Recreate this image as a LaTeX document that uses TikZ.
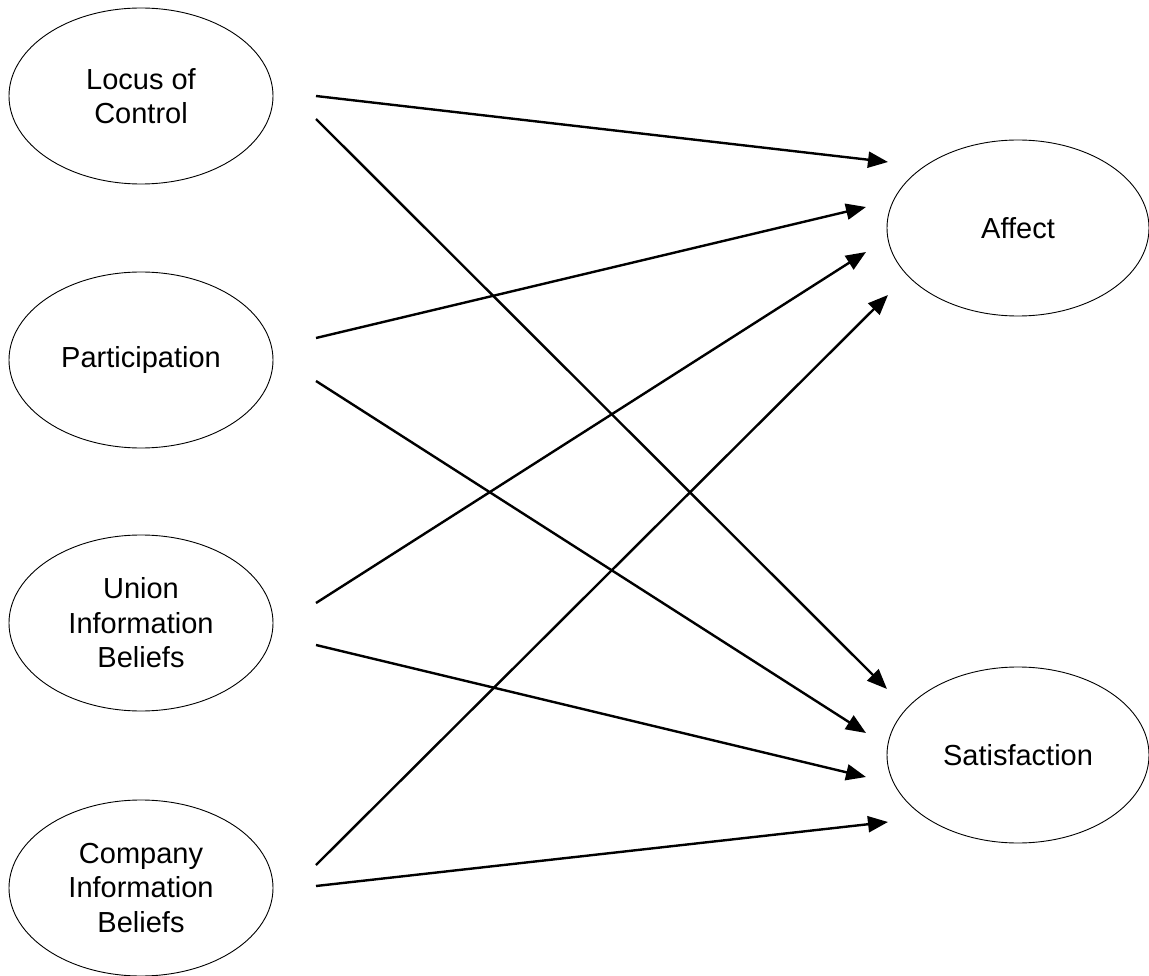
\documentclass[tikz,border=0pt]{standalone}
\usepackage{fontspec}
\setmainfont{Liberation Sans}
\usetikzlibrary{shapes.geometric,arrows.meta}
\begin{document}
\begin{tikzpicture}[x=1pt,y=-1pt,
  construct/.style={ellipse,draw,line width=0.9pt,minimum width=264pt,minimum height=176pt,
    inner sep=0pt,align=center,font=\fontsize{29}{34.5}\selectfont},
  path/.style={line width=2.4pt,-{Triangle[length=20pt,width=16pt]}}]
\useasboundingbox (0,0) rectangle (1149,976);
% exogenous constructs
\node[construct] (loc) at (141,96) {Locus of\\Control};
\node[construct] (par) at (141,360) {Participation};
\node[construct] (uni) at (141,623) {Union\\Information\\Beliefs};
\node[construct] (com) at (141,888) {Company\\Information\\Beliefs};
% outcomes
\node[construct,minimum width=262pt] (aff) at (1018,228) {Affect};
\node[construct,minimum width=262pt] (sat) at (1018,755) {Satisfaction};
% path end points
\coordinate (loc1) at (316,96);
\coordinate (loc2) at (316,119);
\coordinate (par1) at (316,338);
\coordinate (par2) at (316,381);
\coordinate (uni1) at (316,603);
\coordinate (uni2) at (316,645);
\coordinate (com1) at (316,865);
\coordinate (com2) at (316,886);
\coordinate (aff1) at (888,162);
\coordinate (aff2) at (866,207);
\coordinate (aff3) at (866,252);
\coordinate (aff4) at (888,295);
\coordinate (sat1) at (887,689);
\coordinate (sat2) at (866,733);
\coordinate (sat3) at (866,777);
\coordinate (sat4) at (888,822);
% paths
\draw[path] (loc1) -- (aff1);
\draw[path] (loc2) -- (sat1);
\draw[path] (par1) -- (aff2);
\draw[path] (par2) -- (sat2);
\draw[path] (uni1) -- (aff3);
\draw[path] (uni2) -- (sat3);
\draw[path] (com1) -- (aff4);
\draw[path] (com2) -- (sat4);
\end{tikzpicture}
\end{document}
